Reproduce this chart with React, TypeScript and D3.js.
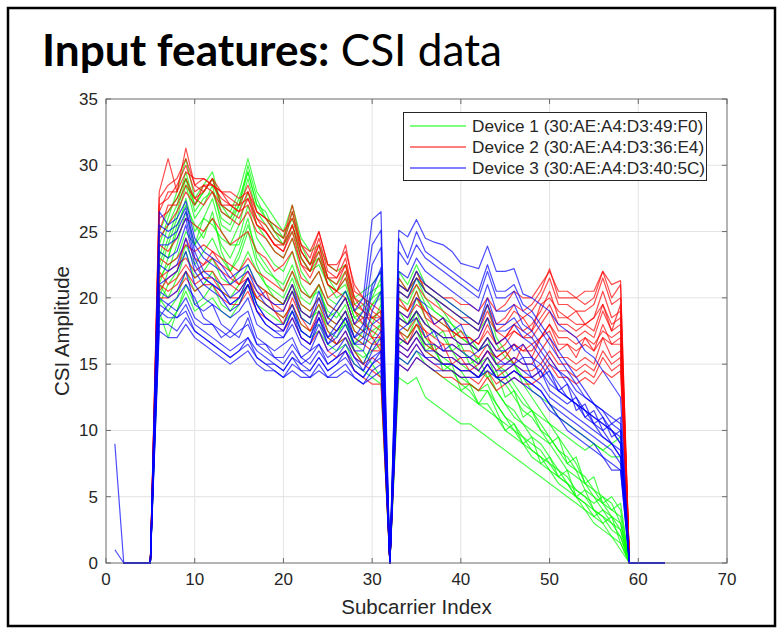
import React from 'react';
import * as d3 from 'd3';

// axis ticks
const xTicks = [0, 10, 20, 30, 40, 50, 60, 70];
const yTicks = [0, 5, 10, 15, 20, 25, 30, 35];

const deviceNames = [
  'Device 1 (30:AE:A4:D3:49:F0)',
  'Device 2 (30:AE:A4:D3:36:E4)',
  'Device 3 (30:AE:A4:D3:40:5C)',
];
const deviceColors = ['#00ff00', '#ff0000', '#0000ff'];

// subcarriers carrying no energy (guard / DC)
const zeroCarriers = [2, 3, 4, 5, 32, 59, 60, 61, 62, 63];
const lowStart = 6;   // first band: 6..31
const highStart = 33; // second band: 33..58

// Device 1 (green) - amplitudes for subcarriers 6..31
const dev1Low = [
  [24, 26, 28, 30.5, 27.5, 28.5, 29.5, 27, 26.5, 28, 30.5, 28, 27, 26, 25, 27, 24.5, 23.5, 24, 22.5, 22, 22.5, 20, 20.5, 21, 22],
  [23, 25.5, 27, 29.5, 27, 28, 29, 26.5, 26, 27, 29.5, 27, 26.5, 25, 24.5, 26.5, 24, 22.5, 23.5, 21.5, 21, 22, 19.5, 20, 20.5, 21],
  [22, 24, 26, 28.5, 26, 27, 28.5, 25.5, 25, 26.5, 29, 26.5, 25.5, 24.5, 24, 25.5, 23, 22, 23, 21, 20.5, 21.5, 19, 19.5, 20, 20.5],
  [21, 23, 25, 27.5, 25, 26, 27.5, 25, 24, 25.5, 28, 25.5, 24.5, 23.5, 23, 24.5, 22, 21, 22, 20, 19.5, 20.5, 18.5, 18, 19.5, 20],
  [20, 22, 24, 26.5, 24, 25, 26, 24, 23, 24.5, 27, 24.5, 23.5, 22.5, 22, 23.5, 21, 20, 21, 19.5, 19, 20, 18, 17.5, 18.5, 19],
  [19, 17, 19, 21, 19.5, 20, 21, 19.5, 19, 20, 21.5, 20, 19.5, 19, 18.5, 19.5, 18, 17.5, 18, 17, 16.5, 17, 16, 15.5, 16, 16.5],
  [20, 19, 20, 22, 20.5, 21, 22, 20.5, 20, 21, 22.5, 21, 20.5, 20, 19.5, 20.5, 19, 18.5, 19, 18, 17.5, 18, 16.5, 16, 15, 14],
  [21, 20, 21.5, 23.5, 21.5, 22, 23, 21.5, 21, 22, 23.5, 22, 21, 20.5, 20, 21.5, 19.5, 19, 20, 18.5, 18, 19, 17, 16.5, 17, 18],
  [22.5, 24.5, 26.5, 29, 26.5, 27.5, 28, 26, 25.5, 27, 30, 27.5, 26, 25.5, 24.5, 26, 23.5, 22.5, 23, 21.5, 20.5, 21, 19, 18.5, 19.5, 20.5],
  [18.5, 18, 19, 20.5, 19, 19.5, 20, 19, 18.5, 19.5, 21, 19.5, 19, 18.5, 18, 19, 17.5, 17, 17.5, 16.5, 16, 16.5, 15, 14.5, 14, 13.5],
  [25, 26.5, 27.5, 29, 27, 28, 29, 27, 26, 27.5, 29.5, 27, 26, 25, 24, 25, 23, 22, 22.5, 21, 20, 20.5, 18.5, 19, 20, 21.5],
  [19.5, 21, 22, 24, 22.5, 23.5, 24.5, 23, 22, 23.5, 25.5, 23.5, 22.5, 21.5, 21, 22.5, 20.5, 20, 20.5, 19, 18.5, 19.5, 17.5, 17, 17.5, 18],
  [21.5, 22.5, 23, 25, 24, 26, 25.5, 24.5, 24, 24, 26, 23, 22, 21.5, 20.5, 22, 20, 19.5, 21, 18.5, 19, 18, 16.5, 17.5, 18, 19.5],
  [23.5, 23, 25.5, 27, 25.5, 24.5, 26.5, 23.5, 22, 23, 25, 22.5, 21, 20, 19.5, 21, 18.5, 18, 19.5, 17.5, 17, 18.5, 16, 15, 16.5, 17],
];
// Device 1 (green) - amplitudes for subcarriers 33..58
const dev1High = [
  [21.5, 20.5, 22, 20.5, 20, 19, 18, 17, 16.5, 15, 15.5, 14, 13.5, 12.5, 11.5, 11, 10, 9.5, 8.5, 7.5, 7, 5.5, 5, 4, 3.5, 3],
  [20.5, 20, 21.5, 20, 19, 18.5, 17.5, 16, 15.5, 14.5, 14, 13, 12, 11.5, 10.5, 9.5, 9, 8, 7, 6.5, 5.5, 5, 4, 3.5, 2.5, 2],
  [22, 21, 22.5, 21, 20.5, 20, 19.5, 19, 18.5, 18, 19.5, 17, 16, 15, 13.5, 12.5, 11.5, 10.5, 9.5, 8.5, 7.5, 6, 5.5, 4.5, 4, 4.5],
  [19.5, 19, 20.5, 19, 18.5, 18, 17.5, 17, 16.5, 16, 17, 15, 14.5, 13.5, 12.5, 11.5, 11, 10.5, 10, 9.5, 9, 8.5, 9, 8.5, 9, 9.5],
  [18, 17.5, 19, 17, 16, 15, 14.5, 13.5, 13, 12, 11.5, 11, 10, 9.5, 9, 8, 7.5, 7, 6, 5.5, 5, 4, 3.5, 3, 2, 1.5],
  [17, 16.5, 17.5, 16, 15.5, 15, 14.5, 14, 13.5, 13, 13.5, 12, 11, 10.5, 9.5, 9, 8.5, 7.5, 7, 6, 5.5, 5, 4.5, 5, 4, 3.5],
  [14, 13.5, 14, 12.5, 12, 11.5, 11, 10.5, 10.5, 10, 9.5, 9, 8.5, 8, 7.5, 7, 6.5, 6, 5.5, 5, 4.5, 4, 3, 2.5, 2, 1],
  [18.5, 18, 19, 18, 17.5, 17, 16, 15, 14.5, 14, 14.5, 13, 12, 11, 10.5, 10, 9.5, 9, 8, 7, 6.5, 6, 5, 4.5, 3.5, 2.5],
  [20, 19.5, 21, 19.5, 19, 18.5, 18, 17.5, 17, 16, 16.5, 15, 14, 13, 12, 11.5, 10.5, 9.5, 8.5, 8, 7, 6.5, 5.5, 5, 4.5, 3],
  [15.5, 15, 16, 15, 14.5, 14, 13.5, 13, 12.5, 12, 12, 11, 10.5, 10, 9, 8.5, 8, 7, 6.5, 6, 5, 4.5, 4, 3.5, 3, 2],
  [21, 20.5, 21.5, 20.5, 20, 19.5, 19, 18.5, 18, 17.5, 18.5, 16.5, 15.5, 15, 14, 13, 12.5, 12, 11, 10.5, 10, 9.5, 9, 8.5, 8, 8],
  [17.5, 17, 18, 16.5, 16, 15.5, 15, 14.5, 13.5, 13, 13, 12, 11, 10, 9.5, 8.5, 8, 7.5, 6.5, 6, 5, 4.5, 3.5, 4, 3, 2.5],
  [19, 18, 20, 18.5, 17, 17.5, 16, 16.5, 15, 15.5, 14, 14.5, 12.5, 13, 11, 11.5, 10, 9, 9.5, 7.5, 8, 6, 6.5, 4.5, 5, 4],
  [16.5, 17, 18.5, 16, 16.5, 14.5, 15, 13, 13.5, 12, 13, 11.5, 10, 10.5, 9, 9.5, 7.5, 8, 6.5, 7, 5, 5.5, 4, 3, 3.5, 1.5],
];

// Device 2 (red)
const dev2Low = [
  [28, 30.5, 28, 31.3, 28.5, 28, 29, 28, 27.5, 27, 28.5, 26.5, 26, 25, 24.5, 27, 24, 23, 25, 22.5, 22, 24, 20.5, 20, 19, 18.5],
  [27, 27.5, 28.5, 30, 28, 28.5, 28.5, 27.5, 27, 26.5, 28, 26, 25.5, 24.5, 24, 26.5, 23.5, 22.5, 24.5, 22, 21.5, 23, 20, 19.5, 18.5, 18],
  [26, 26.5, 27.5, 29, 27.5, 27, 28, 27, 26.5, 26, 27.5, 25.5, 25, 24, 23.5, 25.5, 23, 22, 24, 21.5, 21, 22.5, 19.5, 19, 18, 17.5],
  [24.5, 25.5, 26.5, 28, 27, 28.5, 28, 26.5, 26, 25.5, 26.5, 25, 24.5, 23.5, 23, 24.5, 22.5, 21.5, 23, 21, 20.5, 22, 19, 18.5, 18.5, 19],
  [25, 27, 27, 28.5, 27.5, 28, 29, 27, 27, 26.5, 27, 25.5, 25, 24, 23.5, 25, 22.5, 22, 23.5, 21, 20.5, 21.5, 19, 18, 17.5, 17],
  [22, 21, 21.5, 22.5, 21.5, 22, 22, 21, 21, 20.5, 21.5, 20.5, 20, 19.5, 19, 20.5, 19, 18.5, 19.5, 18, 17.5, 18.5, 17, 16.5, 16, 16],
  [21, 20.5, 21, 22, 21, 21.5, 21.5, 20.5, 20, 20, 21, 20, 19.5, 19, 18.5, 19.5, 18, 17.5, 18.5, 17, 16.5, 17, 15.5, 15, 14.5, 14],
  [20, 20, 20.5, 21.5, 20.5, 21, 21, 20, 19.5, 19.5, 20.5, 19, 18.5, 18, 17.5, 18.5, 17, 16.5, 17.5, 16, 15.5, 16, 14.5, 14, 13.5, 13.5],
  [26.5, 28, 28, 29.5, 29, 29, 28.5, 28, 28, 27.5, 28, 26.5, 26, 25.5, 25, 26, 24, 23.5, 25, 22.5, 22.5, 23.5, 21, 20, 19.5, 19],
  [23, 22.5, 23, 24, 23.5, 24, 23.5, 23, 22.5, 22, 23, 22, 21.5, 21, 20.5, 22, 20.5, 20, 21, 19.5, 19, 20, 18, 17.5, 17, 17],
  [27.5, 28.5, 29, 30.5, 28.5, 29, 28.5, 28, 27, 27, 27.5, 26, 25, 24, 24, 25.5, 23.5, 22.5, 24, 21.5, 21.5, 22.5, 20, 19, 18.5, 18.5],
  [21.5, 22, 22.5, 23, 22, 22.5, 23, 22, 21.5, 21, 22, 21, 20.5, 20, 19.5, 21, 19.5, 19, 20, 18.5, 18, 19, 17.5, 17, 16.5, 16.5],
  [24, 23.5, 24.5, 26, 25.5, 25, 26, 25, 24, 24.5, 25, 23.5, 23, 22, 22.5, 23.5, 21.5, 21, 22, 20, 20.5, 20, 18, 18.5, 17, 16],
  [20.5, 21.5, 22, 24.5, 23, 22.5, 23.5, 22.5, 22, 21, 21.5, 20, 20.5, 19, 18, 20, 18.5, 17.5, 19, 17.5, 16.5, 17.5, 16, 15, 15.5, 15],
];
const dev2High = [
  [21.5, 20.5, 22, 20.5, 20, 19.5, 19, 18.5, 18.5, 18, 19.5, 18, 18.5, 19.5, 19, 19.5, 20.5, 22.2, 20, 20, 20, 19.5, 20, 22, 20, 21],
  [20.5, 20, 21, 20, 19.5, 19, 18.5, 18, 18, 17.5, 19, 17.5, 18, 19, 18.5, 19, 20, 21.5, 19.5, 19.5, 19, 19, 19.5, 21.5, 19.5, 20],
  [19.5, 19, 20, 19, 18.5, 18, 17.5, 17, 17, 16.5, 18, 16.5, 17, 18, 17.5, 18, 19, 20.5, 18.5, 18.5, 18, 18, 18.5, 20.5, 18.5, 19],
  [18.5, 18, 19, 18, 17.5, 17, 17, 16.5, 16.5, 16, 17, 16, 16.5, 17.5, 17, 17, 18, 19, 17.5, 17.5, 17, 17.5, 17, 19, 17.5, 18],
  [17.5, 17, 18, 17, 16.5, 16, 16, 15.5, 15.5, 15, 16, 15, 15.5, 16.5, 16, 16, 17, 18, 16.5, 16.5, 16, 16.5, 16, 18, 16.5, 17],
  [17, 16.5, 17.5, 16.5, 16, 15.5, 15.5, 15, 15, 14.5, 15.5, 14.5, 15, 15.5, 15, 15, 16, 17, 15.5, 15.5, 15, 15.5, 15, 17, 15.5, 16],
  [16, 15.5, 16.5, 15.5, 15, 14.5, 14.5, 14, 14, 13.5, 14.5, 13.5, 14, 14.5, 14, 14, 14.5, 15.5, 14.5, 14.5, 14, 14.5, 14, 15.5, 14.5, 15],
  [15, 14.5, 15.5, 15, 14.5, 14, 14, 13.5, 13.5, 13, 14, 13, 13.5, 14, 13.5, 13.5, 14, 15, 14, 14, 13.5, 14, 13.5, 14.5, 14, 14.5],
  [21, 20.5, 21.5, 21, 20.5, 20, 20, 19.5, 19.5, 19, 20, 19, 19.5, 20.5, 20, 20, 21, 22, 20.5, 20.5, 20, 20.5, 20.5, 22, 21, 21.3],
  [18, 17.5, 18.5, 17.5, 17, 16.5, 16.5, 16, 16, 15.5, 16.5, 15.5, 16, 16.5, 16, 16.5, 17, 18, 17, 17, 16.5, 17, 16.5, 17.5, 17, 17.5],
  [19, 18.5, 19.5, 19, 18, 17.5, 17.5, 17, 17, 16.5, 17.5, 16.5, 17, 17.5, 17, 17.5, 18.5, 19.5, 18, 18, 17.5, 18, 17.5, 19.5, 18, 18.5],
  [16.5, 16, 17, 16, 15.5, 15, 15, 14.5, 14.5, 14, 15, 14, 14.5, 15, 14.5, 14.5, 15, 16, 15, 15, 14.5, 15, 14.5, 16, 15, 15.5],
  [20, 19, 20.5, 18.5, 18, 18.5, 17, 17.5, 16.5, 17, 18.5, 17.5, 17, 18, 18.5, 17.5, 19.5, 20, 19, 18.5, 19, 18, 18.5, 19.5, 17.5, 19.5],
  [17.5, 16.5, 18, 17.5, 16, 16.5, 15, 15.5, 14.5, 15, 16, 15.5, 16, 15, 16.5, 15.5, 17, 17.5, 16, 16.5, 15.5, 17, 16, 17, 16.5, 16.5],
];

// Device 3 (blue)
const dev3Low = [
  [26.5, 25.5, 26, 27.3, 24.5, 23.5, 23, 22.5, 21.5, 22, 22.5, 21, 20, 19.5, 19.5, 21, 19, 18.5, 20.5, 18.5, 19.5, 20.5, 19, 20, 25.9, 26.5],
  [25.5, 25, 25.5, 26.8, 24, 23, 22.5, 22, 21, 21.5, 22, 20.5, 19.5, 19, 19, 20.5, 18.5, 18, 20, 18, 19, 20, 18, 19, 24, 25.1],
  [25, 24.5, 25, 26.5, 23.5, 22, 21.5, 21, 20, 20.5, 21.5, 19.5, 18.5, 18, 18, 19.5, 17.5, 17, 19, 17, 18, 19, 17, 18, 22.5, 23.8],
  [24, 24, 24.5, 26, 23, 21.5, 21, 20.5, 19.5, 20, 21, 19, 18, 17.5, 17.5, 19, 17, 16.5, 18.5, 16.5, 17.5, 18.5, 16.5, 17, 20.5, 22.3],
  [21, 21.5, 22, 23.5, 21, 20, 19.5, 19, 18.5, 19, 20, 18, 17.5, 17, 17, 18, 16.5, 16, 17.5, 16, 16.5, 17.5, 16, 16, 18, 18.5],
  [20, 19.5, 19, 20, 18.5, 18, 18, 17.5, 17, 17.5, 18, 16.5, 16, 15.5, 15.5, 16.5, 15.5, 15, 16, 15, 15.5, 16, 15, 14.5, 15.5, 16],
  [19, 18.5, 18.5, 19.5, 18, 17.5, 17, 16.5, 16, 16.5, 17, 16, 15.5, 15, 14.5, 15.5, 15, 14.5, 15.5, 14.5, 15, 15.5, 14.5, 14, 15, 15.5],
  [18, 18, 17.5, 18.5, 17.5, 17, 16.5, 16, 15.5, 16, 16.5, 15.5, 15, 14.5, 14, 15, 14.5, 14, 15, 14, 14.5, 15, 14, 13.5, 14.5, 15],
  [22.5, 22, 22.5, 24.5, 22, 21, 20.5, 20, 19, 19.5, 21, 19, 18, 17.5, 17, 18.5, 17, 16.5, 18, 16.5, 17, 18, 16.5, 16.5, 19, 20.5],
  [17.5, 17, 17, 18, 17, 16.5, 16, 15.5, 15, 15.5, 16, 15, 14.5, 14.5, 14, 14.5, 14, 14, 14.5, 14, 14, 14.5, 14, 13.5, 14, 14.5],
  [23.5, 23, 23.5, 25.5, 22.5, 21.5, 21, 20.5, 19.5, 20, 21.5, 19.5, 18.5, 18, 17.5, 19, 17.5, 17, 18.5, 17, 17.5, 18.5, 17, 17.5, 21, 22],
  [19.5, 19, 18.5, 19, 17.5, 17, 16.5, 16, 15.5, 16, 17, 15.5, 15, 15, 14.5, 15.5, 14.5, 14.5, 15.5, 14.5, 15, 16, 14.5, 14, 15, 16],
  [20.5, 20, 20.5, 22, 19.5, 19, 19.5, 18, 17.5, 18.5, 19, 17, 16.5, 16, 16.5, 17, 15.5, 16, 16.5, 15.5, 16, 17, 15.5, 15, 16.5, 17.5],
  [18.5, 19.5, 20, 21, 20, 18.5, 18, 17, 17.5, 17, 18.5, 16.5, 16.5, 15.5, 15, 16, 15, 15.5, 16.5, 15, 15.5, 16.5, 15.5, 14.5, 16, 17],
];
const dev3High = [
  [25.1, 24.6, 25.9, 24.5, 24.2, 24, 23.5, 22.6, 22.4, 22.2, 23.9, 22, 22, 22.2, 20.3, 20, 19.5, 19, 18, 17.5, 17, 16, 15.5, 14.5, 13.5, 12.5],
  [24.5, 23, 25, 23.5, 23, 22.5, 22, 21.5, 21, 20.5, 22.5, 20.5, 20.5, 21, 19.5, 19, 18, 17, 16, 15, 14, 13, 12, 11.5, 10.5, 10],
  [22, 21.5, 23, 22, 21.5, 21, 20.5, 20, 19.5, 19, 21, 19, 19, 19.5, 18, 17.5, 16.5, 15.5, 14.5, 13.5, 12.5, 11.5, 10.5, 10, 9, 8.5],
  [20.5, 20, 21.5, 20.5, 20, 19.5, 19, 18.5, 18, 17.5, 19.5, 17.5, 17.5, 18, 17, 16.5, 15.5, 14.5, 13.5, 12.5, 12, 11, 10.5, 9.5, 9, 8],
  [18.5, 18, 19, 18, 17.5, 17, 17, 16.5, 16.5, 16, 17, 16, 16, 16.5, 15.5, 15.5, 15, 14, 13, 12.5, 12, 11.5, 11, 10.5, 10, 9.5],
  [17, 16.5, 17.5, 16.5, 16.5, 16, 16, 15.5, 15.5, 15, 16, 15, 15, 15.5, 15, 15, 14.5, 13.5, 13, 12.5, 12, 11.5, 11, 10.5, 10, 9],
  [16.5, 16, 17, 16, 16, 15.5, 15.5, 15, 15, 14.5, 15.5, 14.5, 14.5, 15, 14.5, 14, 13.5, 12.5, 12, 11.5, 11, 10.5, 10, 9.5, 9, 8],
  [15.5, 15, 16, 15.5, 15, 15, 15, 14.5, 14.5, 14, 15, 14, 14, 14.5, 14, 13.5, 13, 12, 11, 10.5, 10, 9.5, 9, 8, 7.5, 7],
  [21, 20.5, 22, 21, 20.5, 20, 19.5, 19, 18.5, 18, 20, 18, 18, 18.5, 17.5, 17, 16, 15, 14.5, 14, 13, 12.5, 12, 11.5, 11, 10.5],
  [15, 14.5, 15.5, 15, 14.5, 14.5, 14.5, 14, 14, 14, 14.5, 14, 13.5, 14, 13.5, 13, 12.5, 11.5, 11, 10, 9.5, 9, 8.5, 8, 7, 7],
  [23.5, 22.5, 24, 23, 22.5, 22, 21.5, 21, 20.5, 20, 22, 20, 20, 20.5, 19, 18.5, 17.5, 16.5, 15.5, 14.5, 13.5, 12.5, 12, 11, 10, 9],
  [16, 15.5, 16.5, 15.5, 15.5, 15, 15, 14.5, 14.5, 14, 15, 14, 14, 14.5, 14, 13.5, 13, 12, 11.5, 11, 10.5, 10, 9.5, 9, 8.5, 7.5],
  [19, 18.5, 20, 19.5, 18, 18.5, 17.5, 18, 16.5, 17, 18.5, 16.5, 17, 16, 16.5, 15.5, 14, 14.5, 13, 13.5, 11.5, 12, 10.5, 11, 9.5, 10],
  [17.5, 18, 18.5, 17, 17.5, 16, 16.5, 16, 15.5, 16, 16.5, 15.5, 15, 15, 15.5, 14, 14.5, 13, 12.5, 12, 12.5, 11, 11.5, 10, 10.5, 11],
];
// values on subcarrier 1 for the first device-3 traces
const dev3Lead = [9, 1];

type Pt = [number, number];

function buildTrace(low: number[], high: number[], lead?: number): Pt[] {
  const pts: Pt[] = [];
  if (lead !== undefined) pts.push([1, lead]);
  zeroCarriers.filter(k => k < lowStart).forEach(k => pts.push([k, 0]));
  low.forEach((v, i) => pts.push([lowStart + i, v]));
  zeroCarriers.filter(k => k > 31 && k < highStart).forEach(k => pts.push([k, 0]));
  high.forEach((v, i) => pts.push([highStart + i, v]));
  zeroCarriers.filter(k => k > 58).forEach(k => pts.push([k, 0]));
  return pts;
}

const App: React.FC = () => {
  const width = 782;
  const height = 631;
  const plot = { left: 106, right: 727, top: 99, bottom: 563 };

  const xScale = d3.scaleLinear().domain([0, 70]).range([plot.left, plot.right]);
  const yScale = d3.scaleLinear().domain([0, 35]).range([plot.bottom, plot.top]);
  const line = d3.line<Pt>().x(d => xScale(d[0])).y(d => yScale(d[1]));

  const devices = [
    { lows: dev1Low, highs: dev1High, leads: [] as number[] },
    { lows: dev2Low, highs: dev2High, leads: [] as number[] },
    { lows: dev3Low, highs: dev3High, leads: dev3Lead },
  ];

  const axisFont = '"Liberation Sans", Arial, sans-serif';
  const tickLen = 5;
  const legendRow = 21;

  return (
    <svg width={width} height={height} style={{ position: 'absolute', left: 0, top: 0, background: '#fff' }}>
      <rect x={0} y={0} width={width} height={height} fill="#fff" />
      {/* slide frame */}
      <rect x={8} y={8} width={767} height={618} fill="none" stroke="#000" strokeWidth={2.5} />

      {/* title */}
      <text x={42} y={66} fontFamily="Lato, 'Open Sans', sans-serif" fontSize={44} fill="#000"
        textLength={460} lengthAdjust="spacingAndGlyphs">
        <tspan fontWeight="bold">Input features:</tspan>
        <tspan> CSI data</tspan>
      </text>

      {/* grid */}
      <g stroke="#e3e3e3" strokeWidth={1}>
        {xTicks.slice(1, -1).map(t => (
          <line key={`gx${t}`} x1={xScale(t)} x2={xScale(t)} y1={plot.top} y2={plot.bottom} />
        ))}
        {yTicks.slice(1, -1).map(t => (
          <line key={`gy${t}`} x1={plot.left} x2={plot.right} y1={yScale(t)} y2={yScale(t)} />
        ))}
      </g>

      {/* traces */}
      <g fill="none" strokeWidth={1.2} strokeLinejoin="round">
        {devices.map((dev, di) =>
          dev.lows.map((low, ti) => (
            <path
              key={`d${di}t${ti}`}
              d={line(buildTrace(low, dev.highs[ti], dev.leads[ti])) || ''}
              stroke={deviceColors[di]}
              strokeOpacity={0.7}
            />
          ))
        )}
      </g>

      {/* axes box and ticks */}
      <rect x={plot.left} y={plot.top} width={plot.right - plot.left} height={plot.bottom - plot.top}
        fill="none" stroke="#6b6b6b" strokeWidth={1} />
      <g stroke="#6b6b6b" strokeWidth={1}>
        {xTicks.map(t => (
          <g key={`tx${t}`}>
            <line x1={xScale(t)} x2={xScale(t)} y1={plot.bottom} y2={plot.bottom - tickLen} />
            <line x1={xScale(t)} x2={xScale(t)} y1={plot.top} y2={plot.top + tickLen} />
          </g>
        ))}
        {yTicks.map(t => (
          <g key={`ty${t}`}>
            <line x1={plot.left} x2={plot.left + tickLen} y1={yScale(t)} y2={yScale(t)} />
            <line x1={plot.right} x2={plot.right - tickLen} y1={yScale(t)} y2={yScale(t)} />
          </g>
        ))}
      </g>

      {/* tick labels */}
      <g fontFamily={axisFont} fontSize={17} fill="#262626">
        {xTicks.map(t => (
          <text key={`lx${t}`} x={xScale(t)} y={plot.bottom + 22} textAnchor="middle">{t}</text>
        ))}
        {yTicks.map(t => (
          <text key={`ly${t}`} x={plot.left - 8} y={yScale(t) + 6} textAnchor="end">{t}</text>
        ))}
      </g>

      {/* axis labels */}
      <text x={(plot.left + plot.right) / 2} y={614} textAnchor="middle" fontFamily={axisFont} fontSize={20.5} fill="#262626">
        Subcarrier Index
      </text>
      <text transform={`translate(69,${(plot.top + plot.bottom) / 2}) rotate(-90)`} textAnchor="middle"
        fontFamily={axisFont} fontSize={20.5} fill="#262626">
        CSI Amplitude
      </text>

      {/* legend */}
      <g>
        <rect x={403.5} y={112.5} width={303} height={68} fill="#fff" stroke="#262626" strokeWidth={1} />
        {deviceNames.map((name, i) => (
          <g key={name}>
            <line x1={410} x2={466} y1={126 + i * legendRow} y2={126 + i * legendRow} stroke={deviceColors[i]} strokeWidth={1.2} />
            <text x={472} y={126 + i * legendRow + 6} fontFamily={axisFont} fontSize={17.2} fill="#262626">{name}</text>
          </g>
        ))}
      </g>
    </svg>
  );
};

export default App;
